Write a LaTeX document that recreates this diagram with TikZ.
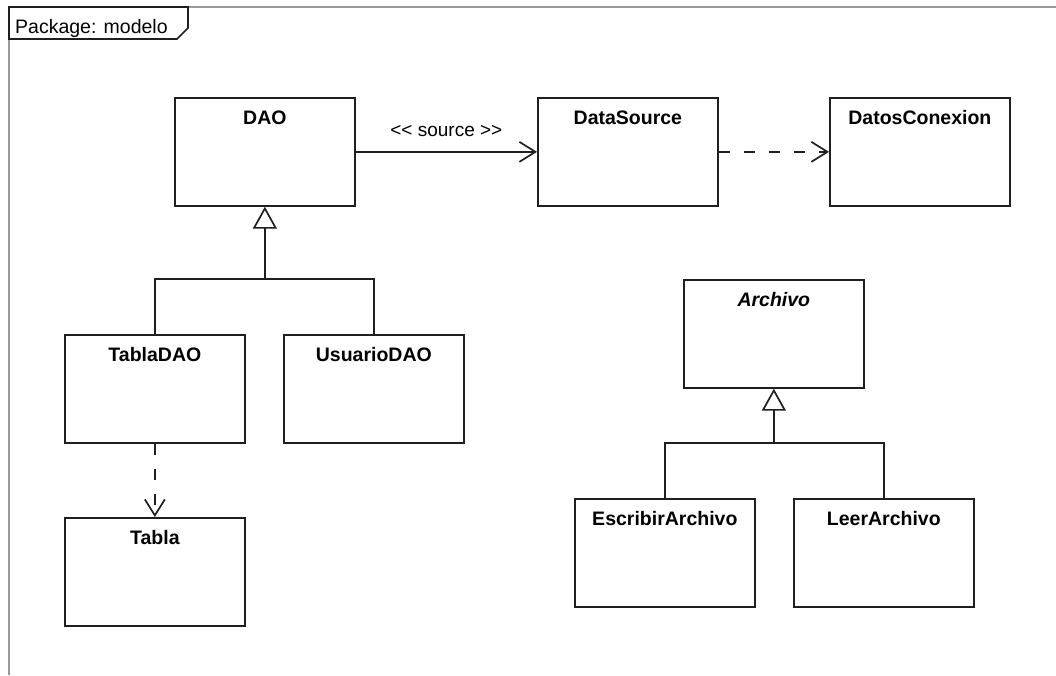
\documentclass[tikz,border=0pt]{standalone}
\usepackage{fontspec}
\setmainfont{Liberation Sans}
\usetikzlibrary{arrows.meta}
\begin{document}
\begin{tikzpicture}[x=1pt,y=-1pt,
  cls/.style={draw=black!88, line width=1.7pt, anchor=north west, inner sep=0pt,
    minimum width=180pt, minimum height=108pt, text height=27pt, text depth=81pt,
    font=\fontsize{19.5}{21}\selectfont\bfseries},
  conn/.style={draw=black!88, line width=1.7pt},
  assoc/.style={conn, -{Straight Barb[length=16pt, width=20pt]}},
  dep/.style={conn, dash pattern=on 11pt off 14pt, -{Straight Barb[length=16pt, width=20pt]}},
  gen/.style={conn, -{Triangle[open, length=22pt, width=24pt]}},
  frameline/.style={draw=black!40, line width=1.7pt},
  tabline/.style={draw=black!88, line width=1.7pt}]

% page and bounding box
\fill[white] (0,0) rectangle (1056,675);
\useasboundingbox (0,0) rectangle (1056,675);

% package frame with its name tab
\draw[frameline] (1056,7) -- (9,7) -- (9,675);
\draw[tabline] (9,7) -- (188,7) -- (188,28) -- (177,39) -- (9,39) -- cycle;
\node[anchor=base west, inner sep=0pt, font=\fontsize{19.5}{21}\selectfont] (pkg) at (15,33) {Package: modelo};

% classes
\node[cls] (DAO)  at (174,97) {DAO};
\node[cls] (DS)   at (537,97) {DataSource};
\node[cls] (DC)   at (829,97) {DatosConexion};
\node[cls] (TDAO) at (64,334) {TablaDAO};
\node[cls] (UDAO) at (283,334) {UsuarioDAO};
\node[cls] (Tab)  at (64,517) {Tabla};
\node[cls] (Arch) at (683,279) {\itshape Archivo};
\node[cls] (EArch) at (574,498) {EscribirArchivo};
\node[cls] (LArch) at (793,498) {LeerArchivo};

% association and dependencies
\draw[assoc] (DAO.east) -- node[above=14pt, inner sep=0pt, font=\fontsize{19}{21}\selectfont] (src) {<{}< source >{}>} (DS.west);
\draw[dep] (DS.east) -- (DC.west);
\draw[dep] (TDAO.south) -- (Tab.north);

% generalizations
\coordinate (jDAO) at (DAO.south |- 0,279);
\draw[conn] (TDAO.north) |- (jDAO) -| (UDAO.north);
\draw[gen] (jDAO) -- (DAO.south);

\coordinate (jArch) at (Arch.south |- 0,443);
\draw[conn] (EArch.north) |- (jArch) -| (LArch.north);
\draw[gen] (jArch) -- (Arch.south);
\end{tikzpicture}
\end{document}
